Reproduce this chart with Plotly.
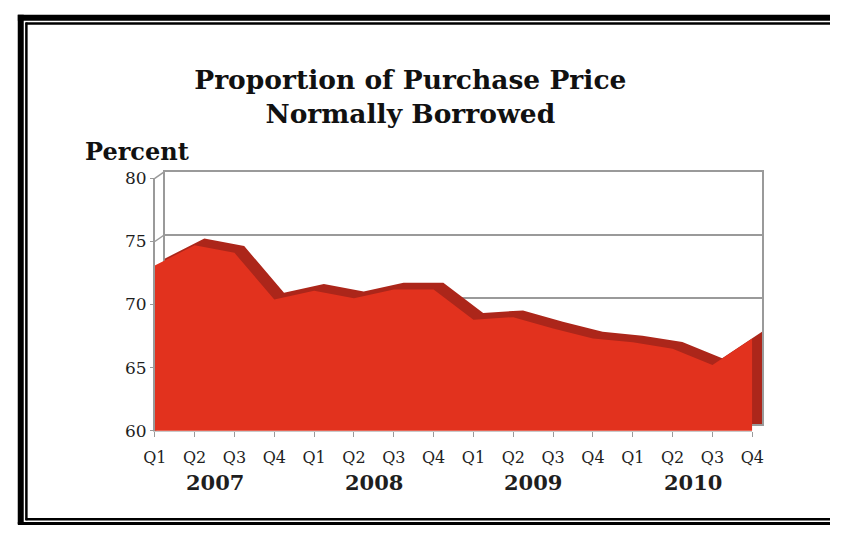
import plotly.graph_objects as go

# Quarterly data, 2007-2010
years = ["2007", "2008", "2009", "2010"]
quarters = ["Q1", "Q2", "Q3", "Q4"]
pct_borrowed = [
    73.1, 74.7, 74.1, 70.4,   # 2007
    71.1, 70.5, 71.2, 71.2,   # 2008
    68.8, 69.0, 68.1, 67.3,   # 2009
    67.0, 66.5, 65.2, 67.3,   # 2010
]
y_ticks = [60, 65, 70, 75, 80]

W, H = 842, 534
idx = list(range(len(pct_borrowed)))
tick_text = [q for _ in years for q in quarters]

# pixel geometry of the front face and the depth offset of the back wall
FX0, FX1, FY_BOT, FY_TOP = 147, 762, 437, 175
DX, DY = 10, -7

def px_x(p):
    return p / W

def px_y(p):
    return 1 - p / H

FRONT_RED = "#E2321E"
SIDE_RED = "#AC261A"
GRID = "#9a9a9a"
SERIF = "DejaVu Serif"
TXT = "#1e1e1e"

fig = go.Figure()

# back surface (gives the top band and right-hand side face)
fig.add_trace(go.Scatter(
    x=idx, y=pct_borrowed, xaxis="x", yaxis="y",
    mode="lines", line=dict(width=0, color=SIDE_RED),
    fill="tozeroy", fillcolor=SIDE_RED, hoverinfo="skip", showlegend=False,
))
# front surface
fig.add_trace(go.Scatter(
    x=idx, y=pct_borrowed, xaxis="x2", yaxis="y2",
    mode="lines", line=dict(width=0, color=FRONT_RED),
    fill="tozeroy", fillcolor=FRONT_RED, hoverinfo="skip", showlegend=False,
))

rng_x = [idx[0], idx[-1]]
rng_y = [y_ticks[0], y_ticks[-1]]

layout = dict(
    width=W, height=H,
    margin=dict(l=0, r=0, t=0, b=0),
    paper_bgcolor="white",
    plot_bgcolor="rgba(0,0,0,0)",
    showlegend=False,
    # back wall
    xaxis=dict(
        domain=[px_x(FX0 + DX), px_x(FX1 + DX)], range=rng_x,
        showgrid=False, zeroline=False, showticklabels=False, ticks="",
        showline=True, mirror=True, linecolor=GRID, linewidth=1.5,
        layer="below traces", fixedrange=True,
    ),
    yaxis=dict(
        domain=[px_y(FY_BOT + DY), px_y(FY_TOP + DY)], range=rng_y,
        tickvals=y_ticks, showgrid=True, gridcolor=GRID, gridwidth=1.5,
        zeroline=False, showticklabels=False, ticks="",
        showline=True, mirror=True, linecolor=GRID, linewidth=1.5,
        layer="below traces", fixedrange=True,
    ),
    # front face with the labelled axes
    xaxis2=dict(
        domain=[px_x(FX0), px_x(FX1)], range=rng_x, anchor="y2",
        tickvals=idx, ticktext=tick_text, showgrid=False, zeroline=False,
        ticks="outside", ticklen=5, tickcolor=GRID, tickwidth=1,
        showline=True, linecolor="#c8c8c8", linewidth=1,
        tickfont=dict(family=SERIF, size=16, color=TXT),
        ticklabelstandoff=7, fixedrange=True,
    ),
    yaxis2=dict(
        domain=[px_y(FY_BOT), px_y(FY_TOP)], range=rng_y, anchor="x2",
        tickvals=y_ticks, showgrid=False, zeroline=False,
        ticks="outside", ticklen=3, tickcolor=GRID, tickwidth=1,
        showline=True, linecolor=GRID, linewidth=1.5,
        tickfont=dict(family=SERIF, size=17, color=TXT),
        fixedrange=True,
    ),
    title=dict(
        text="<b>Proportion of Purchase Price<br>Normally Borrowed</b>",
        x=px_x(410), xanchor="center", xref="paper",
        y=px_y(82), yanchor="middle", yref="paper",
        font=dict(family=SERIF, size=26.5, color="#111"),
    ),
)
fig.update_layout(**layout)

# year labels centred under each group of quarters
for k, yr in enumerate(years):
    grp = idx[k * len(quarters):(k + 1) * len(quarters)]
    fig.add_annotation(
        x=sum(grp) / len(grp), xref="x2", y=px_y(491), yref="paper",
        text=f"<b>{yr}</b>", showarrow=False, xanchor="center", yanchor="middle",
        font=dict(family=SERIF, size=21, color=TXT),
    )

fig.add_annotation(
    x=px_x(73), y=px_y(147), xref="paper", yref="paper",
    text="<b>Percent</b>", showarrow=False, xanchor="left", yanchor="middle",
    font=dict(family=SERIF, size=24, color="#111"),
)

# depth connectors from the front axis to the back wall
fy_scale = (FY_BOT - FY_TOP) / (y_ticks[-1] - y_ticks[0])
for v in y_ticks:
    fy = FY_BOT - (v - y_ticks[0]) * fy_scale
    fig.add_shape(
        type="line", xref="paper", yref="paper", layer="below",
        x0=px_x(FX0), y0=px_y(fy), x1=px_x(FX0 + DX), y1=px_y(fy + DY),
        line=dict(color=GRID, width=1.5),
    )

# double frame; its right edge runs off the page
def frame_line(x0, y0, x1, y1, w):
    fig.add_shape(type="line", xref="paper", yref="paper",
                  x0=px_x(x0), y0=px_y(y0), x1=px_x(x1), y1=px_y(y1),
                  line=dict(color="black", width=w))

frame_line(6, 8, W, 8, 6)          # outer top
frame_line(9, 5, 9, H, 6)          # outer left
frame_line(6, 533.5, W, 533.5, 3)  # outer bottom
frame_line(14, 14, W, 14, 2.5)     # inner top
frame_line(14.8, 13, 14.8, 530, 2.5)  # inner left
frame_line(14, 529, W, 529, 2.5)   # inner bottom

fig.write_html("out.html")
